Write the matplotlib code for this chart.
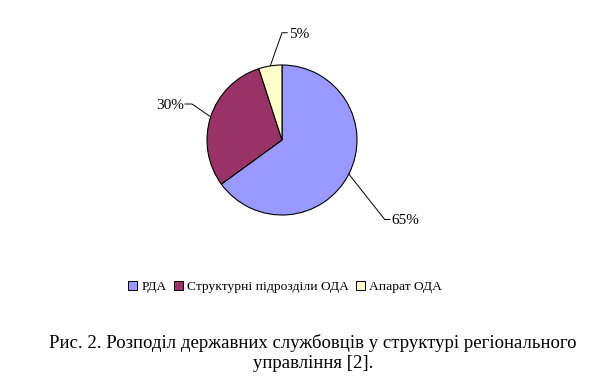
import numpy as np
import matplotlib
matplotlib.use("Agg")
import matplotlib.pyplot as plt
from matplotlib.patches import Patch

categories = ["РДА", "Структурні підрозділи ОДА", "Апарат ОДА"]
shares = [65, 30, 5]
colors = ["#9999FF", "#993366", "#FFFFCC"]
caption = "Рис. 2. Розподіл державних службовців у структурі регіонального\nуправління [2]."

plt.rcParams["font.family"] = ["Liberation Serif", "DejaVu Serif"]

W, H = 614, 386
fig = plt.figure(figsize=(W / 100, H / 100), dpi=100)

# pie centre (282, 140) px, radius 75 px -> axes 300 px square spanning -2..2
cx, cy, half = 282, 140, 150
ax = fig.add_axes([(cx - half) / W, (H - cy - half) / H, 2 * half / W, 2 * half / H])

wedges, _ = ax.pie(shares, colors=colors, startangle=90, counterclock=False, radius=1,
                   wedgeprops=dict(edgecolor="black", linewidth=0.8))
ax.set_xlim(-2, 2)
ax.set_ylim(-2, 2)
ax.set_aspect("equal")
ax.axis("off")

# label layout: elbow point, end point, text alignment
label_layout = [
    ((1.37, -1.06), (1.44, -1.06), "left"),
    ((-1.20, 0.48), (-1.29, 0.48), "right"),
    ((0.00, 1.43), (0.07, 1.43), "left"),
]
for wedge, share, (elbow, end, ha) in zip(wedges, shares, label_layout):
    ang = np.deg2rad((wedge.theta1 + wedge.theta2) / 2)
    x0, y0 = np.cos(ang), np.sin(ang)
    ax.plot([x0, elbow[0], end[0]], [y0, elbow[1], end[1]], color="black", lw=0.7)
    tx = end[0] + (0.02 if ha == "left" else -0.02)
    ax.text(tx, end[1] - 0.02, f"{share}%", ha=ha, va="center", fontsize=11)

handles = [Patch(facecolor=c, edgecolor="black", linewidth=0.7) for c in colors]
fig.legend(handles, categories, loc="center", bbox_to_anchor=(285 / W, 1 - 287 / H), ncol=3,
           frameon=False, fontsize=9.7, handlelength=0.7, handleheight=0.7, handletextpad=0.3,
           columnspacing=0.5)

fig.text(313 / W, 1 - 353 / H, caption, ha="center", va="center", fontsize=13.5, linespacing=1.2)

fig.savefig("out.png", dpi=100)
